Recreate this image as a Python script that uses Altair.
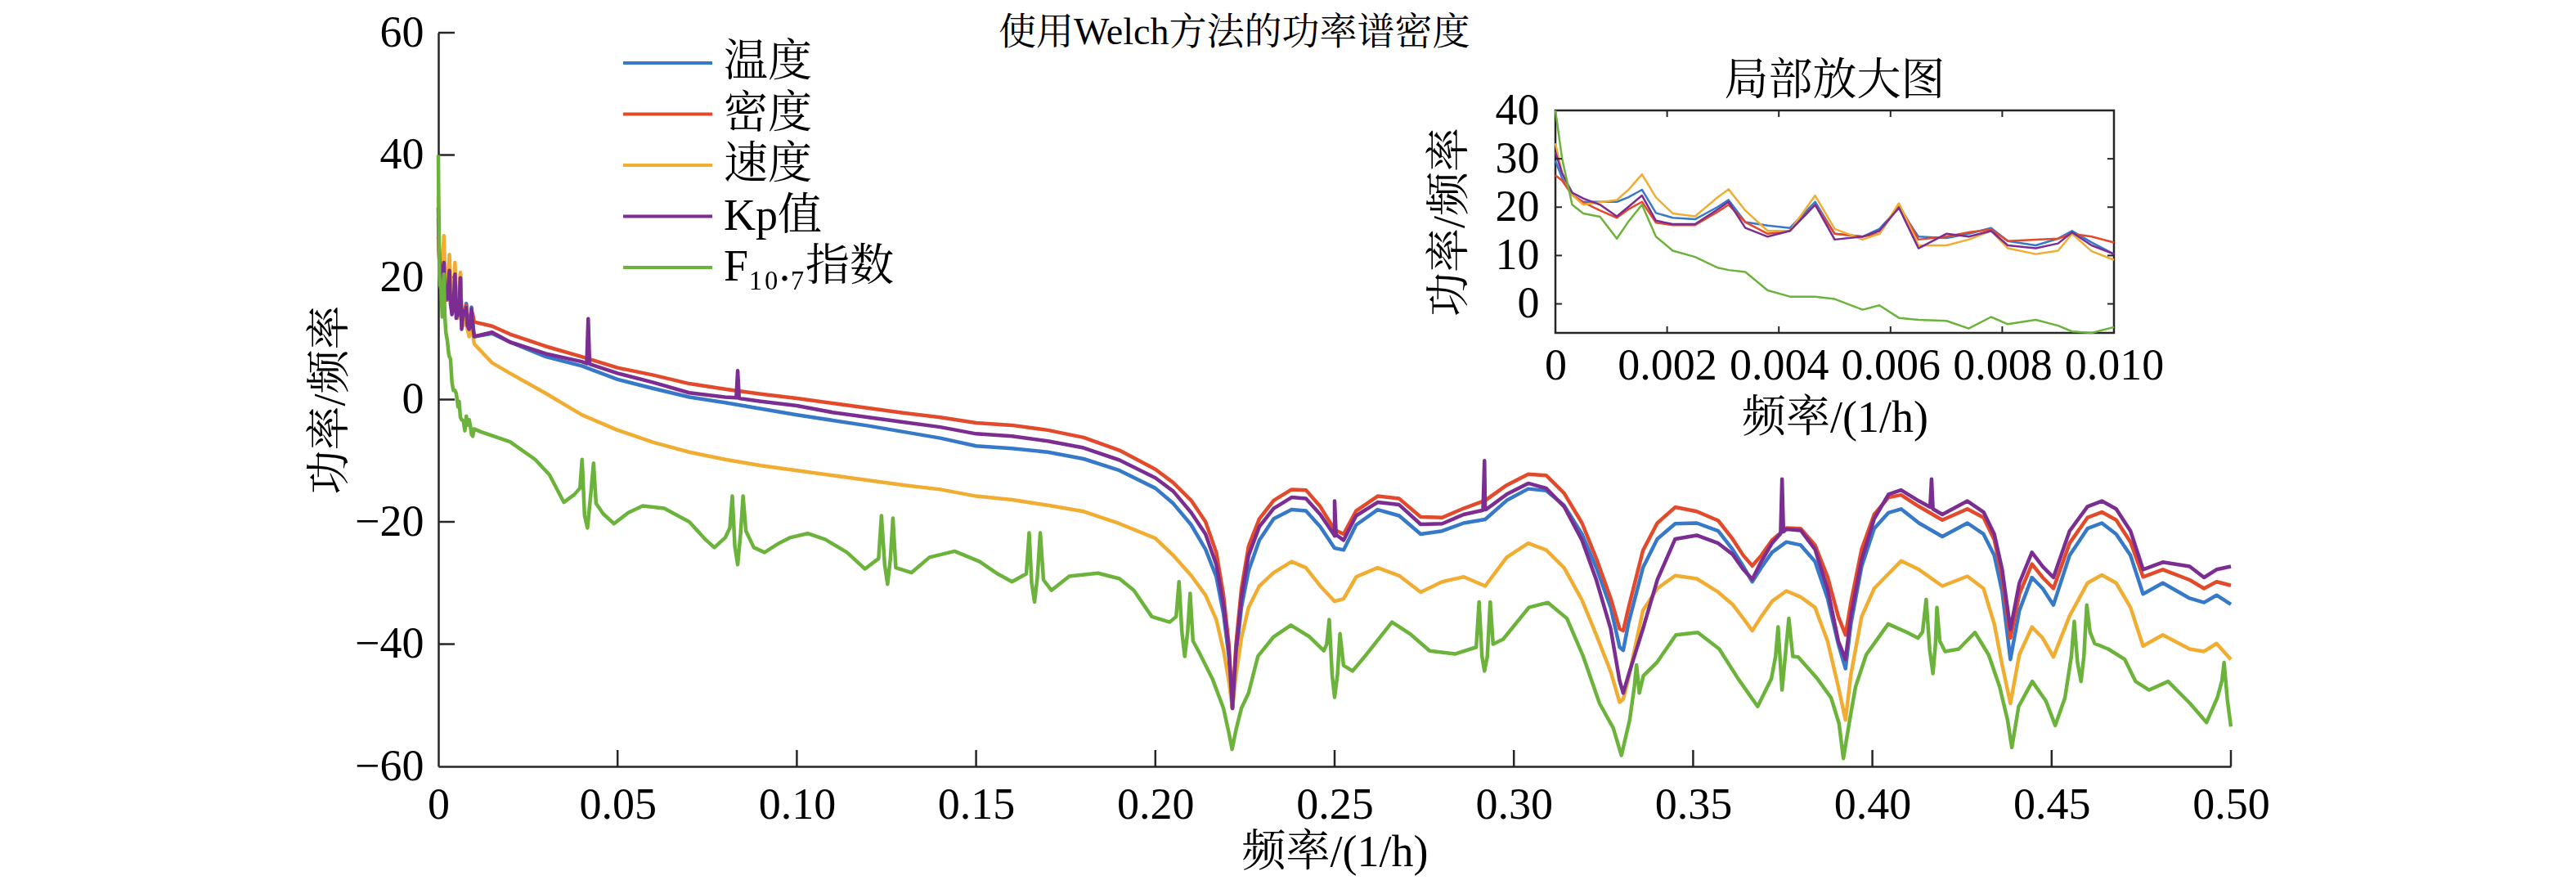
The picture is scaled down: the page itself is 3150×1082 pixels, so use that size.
import altair as alt
import pandas as pd

FONT = "Liberation Serif, Times New Roman, Noto Serif CJK SC, Noto Sans CJK SC, serif"
FS = 54
TITLE_FS = 46
W, H = 2192, 897
INSET_L, INSET_R, INSET_T, INSET_B = 1366, 2049, 95, 367

series_names = ["温度", "密度", "速度", "Kp值", "F₁₀.₇指数"]
series_colors = ["#3779C9", "#E24A2B", "#F0AD32", "#7B2D91", "#6CB33C"]

main_title = "使用Welch方法的功率谱密度"
inset_title = "局部放大图"
x_title = "频率/(1/h)"
y_title = "功率/频率"

x_ticks_main = [0, 0.05, 0.10, 0.15, 0.20, 0.25, 0.30, 0.35, 0.40, 0.45, 0.50]
y_ticks_main = [-60, -40, -20, 0, 20, 40, 60]
x_ticks_inset = [0, 0.002, 0.004, 0.006, 0.008, 0.010]
y_ticks_inset = [0, 10, 20, 30, 40]
inset_x_domain = [0, 0.01]
inset_y_domain = [-6, 40]

# ---- low-frequency part (0 - 0.01 1/h), also shown in the inset ----
inset_freq = [0, 0.00012, 0.0003, 0.0005, 0.0008, 0.0011, 0.0013, 0.00155, 0.0018, 0.0021,
              0.0025, 0.0029, 0.0031, 0.0034, 0.0038, 0.0042, 0.00465, 0.005, 0.0055, 0.0058,
              0.00615, 0.0065, 0.007, 0.0074, 0.0078, 0.0081, 0.0086, 0.009, 0.00925, 0.0096,
              0.01]
inset_wendu = [29.6, 26, 22.5, 21.1, 21.1, 21.1, 22, 23.6, 18.8, 17.8,
               17.5, 20, 21.5, 16.9, 16.2, 15.7, 21.1, 14.5, 13.9, 15.5,
               19.9, 13.9, 13.6, 14.5, 15.7, 13, 12.1, 13.5, 15.1, 12.7,
               10.3]
inset_midu = [26.6, 25.5, 22.5, 21, 19.3, 17.8, 19.5, 21.1, 16.8, 16.3,
              16.3, 19, 20.5, 16.9, 14.5, 15.1, 20.5, 14.5, 13.9, 14.5,
              20.5, 13.3, 13.9, 14.8, 15.4, 13, 13.3, 13.5, 14.5, 13.9,
              12.7]
inset_sudu = [33.2, 27, 22.5, 20.5, 21, 21.5, 23.5, 26.8, 22, 18.7,
              18.1, 22, 23.7, 19.3, 15.1, 15.1, 22.4, 15.5, 13.3, 14.5,
              20.8, 12.1, 12.1, 13.3, 15.1, 11.5, 10.3, 11, 14.5, 10.9,
              9.1]
inset_kp = [31.4, 27, 23, 21.8, 20.5, 18.1, 20, 22.4, 17.2, 16.5,
            16.5, 19.5, 21.1, 15.7, 13.9, 15.1, 20.5, 13.3, 13.9, 15.1,
            19.9, 11.5, 14.5, 13.9, 15.1, 12.1, 11.5, 12.5, 14.8, 12.1,
            10.3]
inset_f107 = [40, 30, 20.5, 18.7, 18, 13.5, 16.9, 20.5, 13.9, 11,
              9.7, 7.5, 7, 6.6, 2.8, 1.5, 1.5, 1, -1.2, -0.3,
              -2.9, -3.3, -3.5, -5.1, -2.7, -4.2, -3.3, -4.5, -5.7, -6,
              -4.8]

# ---- rest of the spectrum (0.01 - 0.5 1/h) ----
main_freq = [0.015, 0.02, 0.03, 0.04, 0.05, 0.06, 0.07, 0.08, 0.09, 0.10,
             0.11, 0.12, 0.13, 0.14, 0.15, 0.16, 0.17, 0.18, 0.19, 0.20,
             0.205, 0.21, 0.214, 0.217, 0.219, 0.2205, 0.2215, 0.2225, 0.224, 0.226,
             0.229, 0.233, 0.238, 0.242, 0.246, 0.25, 0.2525, 0.256, 0.262, 0.268,
             0.274, 0.28, 0.286, 0.292, 0.298, 0.304, 0.309, 0.314, 0.319, 0.323,
             0.327, 0.3295, 0.3305, 0.332, 0.336, 0.34, 0.345, 0.351, 0.357, 0.361,
             0.364, 0.3665, 0.369, 0.372, 0.376, 0.38, 0.384, 0.3875, 0.3905, 0.3925,
             0.394, 0.397, 0.4005, 0.4045, 0.408, 0.413, 0.4195, 0.4265, 0.431, 0.434,
             0.4362, 0.4385, 0.441, 0.4445, 0.4475, 0.4505, 0.455, 0.46, 0.464, 0.468,
             0.472, 0.4755, 0.481, 0.4885, 0.4925, 0.496, 0.5]
main_wendu = [10.8, 9.4, 7.0, 5.5, 3.3, 1.8, 0.4, -0.5, -1.5, -2.5,
              -3.4, -4.3, -5.3, -6.3, -7.6, -8.0, -8.6, -9.7, -11.6, -14.5,
              -17, -20.5, -24.5, -29, -35, -42, -50.5, -42, -34, -28,
              -23, -19.5, -18, -18.2, -20.8, -24.3, -24.6, -20.5, -18, -19,
              -22, -21.5, -20.2, -19.6, -16.5, -14.6, -14.9, -17.3, -22, -27.5,
              -34, -40.5, -41, -36.5, -27.5, -22.8, -20.3, -20.2, -21.5, -24.5,
              -27.3, -29.8, -27.5, -25, -23.3, -23.8, -26.5, -32.5, -40, -44,
              -36.7, -27.3, -21.1, -18.5, -17.9, -20.2, -22.4, -20.2, -22, -25.5,
              -31.4, -42.5, -34.5, -29.1, -30.9, -33.6, -25.5, -21.1, -20.2, -22,
              -25.5, -31.8, -30, -32.5, -33.2, -32, -33.5]
main_midu = [12.0, 10.7, 8.7, 7.0, 5.2, 4.0, 2.6, 1.7, 0.9, 0.2,
             -0.6, -1.4, -2.2, -2.9, -3.8, -4.2, -5.0, -6.2, -8.3, -11.4,
             -13.6, -16.5, -20, -25, -32, -40, -50.5, -40, -31, -24,
             -19.5, -16.5, -14.7, -14.8, -17.5, -21.3, -22, -18.2, -15.8, -16.2,
             -19.2, -19.3, -17.8, -16.5, -14, -12.2, -12.4, -15.3, -20.2, -26,
             -32.5, -37.5, -37.8, -34, -24.7, -20.2, -17.6, -18.3, -19.8, -22.8,
             -25.5, -27.2, -25.5, -23, -21, -21.1, -23.8, -29, -35.5, -38.5,
             -33.2, -24.5, -18.8, -16, -15.6, -17.5, -19.7, -17.9, -19.3, -22.9,
             -29, -39, -31.8, -26.9, -29.1, -30.9, -23.5, -19.3, -18.4, -19.7,
             -23.3, -29, -27.8, -29.5, -30.9, -29.8, -30.4]
main_sudu = [6.0, 4.3, 1.0, -2.5, -5.0, -7.0, -8.6, -9.8, -10.8, -11.6,
             -12.4, -13.2, -14.0, -14.7, -15.8, -16.4, -17.3, -18.3, -20.3, -22.7,
             -25.5, -28.8, -32, -36, -41, -46, -50.5, -45, -39, -34,
             -30.5, -28.3, -26.5, -27.5, -30.5, -33, -32.6, -29, -27.5, -28.8,
             -31.5, -29.8, -29, -30.5, -25.8, -23.5, -24.6, -27.5, -32.8, -38.5,
             -44.5, -49.5, -49, -45.5, -34.5, -30.9, -28.8, -29.3, -31.5, -33.5,
             -35.8, -37.8, -35.5, -33, -31.3, -32.3, -34, -39.5, -47, -52.4,
             -45, -35.5, -30.9, -28.5, -26.4, -27.8, -30.5, -28.9, -30.9, -36.7,
             -43.4, -49.7, -41.7, -37.2, -39, -42.1, -35.4, -30, -28.7, -30,
             -34, -40.3, -38.5, -40.8, -41.2, -39.9, -42.5]
main_kp = [11, 9.4, 7.5, 6.2, 4.3, 2.8, 1.1, 0.4, -0.3, -1.0,
           -2.1, -2.9, -3.7, -4.5, -5.6, -6.0, -6.8, -7.9, -9.9, -12.8,
           -15, -18.5, -22, -27, -33.5, -41, -50.5, -41, -32.5, -25.5,
           -20.8, -17.8, -16, -16.2, -18.8, -22.3, -23, -19, -16.8, -17.2,
           -20.4, -20.3, -18.8, -18, -15.5, -13.7, -14.5, -17.5, -23, -29.5,
           -37.5, -46, -48, -45, -37.5, -29.5, -22.8, -22.2, -23.5, -25.3,
           -27.8, -29.4, -26.5, -23.5, -21.2, -21.4, -24.5, -31, -39.5, -42.5,
           -35.4, -26.2, -19.5, -15.5, -14.8, -16.6, -18.8, -16.6, -18.4, -22,
           -27.8, -37.6, -30, -25, -27.3, -29.1, -21.5, -17.5, -16.6, -17.9,
           -21.5, -27.8, -26.6, -27.3, -29.1, -27.8, -27.3]

# narrow spikes of the Kp spectrum (freq, value)
kp_spikes = [(0.0414, 5.9), (0.0418, 13.2), (0.0422, 5.8),
             (0.0831, 0.3), (0.0835, 4.7), (0.0839, 0.2),
             (0.2496, -21.9), (0.2500, -16.6), (0.2504, -22.1),
             (0.2914, -18.1), (0.2918, -10.0), (0.2922, -18.0),
             (0.3744, -21.9), (0.3748, -13.0), (0.3752, -21.6),
             (0.4161, -17.6), (0.4165, -13.0), (0.4169, -17.9)]

# F10.7 spectrum above 0.01 1/h (freq, value)
f107_points = [
    (0.012, -5.3), (0.02, -6.9), (0.027, -9.8), (0.031, -12.3), (0.035, -16.8), (0.038, -15.5),
    (0.0395, -14.5), (0.0401, -9.8), (0.0408, -19), (0.0416, -21), (0.0426, -15), (0.0433, -10.4),
    (0.044, -17), (0.046, -18.7), (0.049, -20.3), (0.053, -18.5), (0.057, -17.4), (0.063, -17.8),
    (0.07, -20), (0.0747, -23), (0.077, -24.2), (0.08, -22.6), (0.0813, -21), (0.082, -15.8),
    (0.0827, -24), (0.0835, -27), (0.0843, -22), (0.085, -15.8), (0.0858, -21.5), (0.088, -24.2),
    (0.091, -25), (0.095, -23.5), (0.098, -22.6), (0.103, -21.9), (0.108, -22.9), (0.114, -25),
    (0.119, -27.7), (0.1228, -26), (0.1236, -19), (0.1245, -27), (0.1253, -30.2), (0.1261, -26),
    (0.1268, -19.4), (0.1276, -27.5), (0.132, -28.3), (0.137, -25.8), (0.144, -24.8), (0.151, -26.5),
    (0.156, -28.5), (0.16, -29.8), (0.164, -28.5), (0.1648, -21.8), (0.1655, -30), (0.1663, -33.1),
    (0.1671, -29), (0.1679, -21.8), (0.1688, -29.5), (0.171, -31.2), (0.176, -28.9), (0.184, -28.4),
    (0.19, -29.3), (0.194, -31.2), (0.199, -35.5), (0.204, -36.4), (0.2058, -35.5), (0.2066, -29.8),
    (0.2074, -38), (0.2082, -42), (0.209, -38), (0.2097, -31.7), (0.2105, -39.5), (0.212, -41.1),
    (0.216, -45.8), (0.219, -50.5), (0.2205, -54.5), (0.2214, -57.2), (0.2225, -54), (0.224, -50.5),
    (0.226, -48), (0.2286, -42), (0.233, -38.8), (0.2378, -36.9), (0.243, -38.8), (0.247, -41.1),
    (0.2478, -40), (0.2485, -36), (0.2493, -45), (0.25, -48.7), (0.2508, -45), (0.2515, -38.3),
    (0.2525, -43.5), (0.255, -44.4), (0.259, -41.6), (0.266, -36.4), (0.271, -38.3), (0.2765, -41.1),
    (0.2837, -41.6), (0.2895, -40.5), (0.2903, -33.1), (0.2911, -42), (0.2918, -44.4), (0.2926, -42),
    (0.2934, -33.1), (0.2942, -40), (0.297, -39.2), (0.3042, -34), (0.3095, -33.2), (0.3148, -35.8),
    (0.3194, -42.1), (0.3239, -49.7), (0.3277, -53.7), (0.33, -58.2), (0.3323, -52.4), (0.3336, -47),
    (0.3342, -43.4), (0.335, -48), (0.3361, -45.2), (0.3399, -43), (0.3452, -38.5), (0.3513, -38.1),
    (0.3573, -40.8), (0.3626, -45.7), (0.368, -50.2), (0.3718, -45.7), (0.373, -42), (0.3737, -37.2),
    (0.3748, -47.5), (0.3767, -35.8), (0.3778, -42), (0.3793, -42.1), (0.3847, -45.7), (0.3885, -48.8),
    (0.3907, -53), (0.3919, -58.7), (0.3938, -52), (0.3953, -47), (0.3983, -41.7), (0.4044, -36.7),
    (0.4097, -38.1), (0.4127, -39), (0.414, -38), (0.415, -32.7), (0.416, -41), (0.4169, -44.8),
    (0.4176, -40), (0.418, -34), (0.4188, -39.5), (0.4203, -41.2), (0.4241, -40.8), (0.4286, -38.1),
    (0.4324, -41.7), (0.4355, -47), (0.4377, -52.4), (0.4389, -56.9), (0.4408, -50.2), (0.4446, -46.1),
    (0.4484, -49.3), (0.451, -53.3), (0.4537, -48.8), (0.4555, -42), (0.4563, -36.3), (0.4572, -43),
    (0.4582, -46.1), (0.459, -42), (0.4598, -33.6), (0.4607, -38), (0.462, -39.9), (0.4658, -40.8),
    (0.4704, -42.5), (0.4734, -46.1), (0.4772, -47.5), (0.4825, -46.1), (0.4886, -49.7), (0.4932, -52.8),
    (0.4962, -48.8), (0.4975, -46), (0.4981, -43), (0.499, -49), (0.5, -53.5)]

for arr in (main_wendu, main_midu, main_sudu, main_kp):
    if len(arr) != len(main_freq):
        raise ValueError(f"length mismatch {len(arr)} vs {len(main_freq)}")
for arr in (inset_wendu, inset_midu, inset_sudu, inset_kp, inset_f107):
    if len(arr) != len(inset_freq):
        raise ValueError(f"inset length mismatch {len(arr)} vs {len(inset_freq)}")

main_rows = []
inset_rows = []


def add(rows, name, fs, vs):
    for f, v in zip(fs, vs):
        rows.append({"series": name, "freq": f, "psd": v})


add(main_rows, series_names[0], inset_freq + main_freq, inset_wendu + main_wendu)
add(main_rows, series_names[1], inset_freq + main_freq, inset_midu + main_midu)
add(main_rows, series_names[2], inset_freq + main_freq, inset_sudu + main_sudu)
add(main_rows, series_names[3], inset_freq + main_freq + [p[0] for p in kp_spikes],
    inset_kp + main_kp + [p[1] for p in kp_spikes])
add(main_rows, series_names[4], inset_freq + [p[0] for p in f107_points],
    inset_f107 + [p[1] for p in f107_points])

add(inset_rows, series_names[0], inset_freq, inset_wendu)
add(inset_rows, series_names[1], inset_freq, inset_midu)
add(inset_rows, series_names[2], inset_freq, inset_sudu)
add(inset_rows, series_names[3], inset_freq, inset_kp)
add(inset_rows, series_names[4], inset_freq, inset_f107)

main_df = pd.DataFrame(main_rows)
inset_df = pd.DataFrame(inset_rows)

color_scale = alt.Scale(domain=series_names, range=series_colors)
AX = "#262626"

# ---------------- main panel ----------------
x_main = alt.X("freq:Q", scale=alt.Scale(domain=[0, 0.5], nice=False, zero=False),
               axis=alt.Axis(orient="bottom", values=x_ticks_main,
                             labelExpr="datum.value == 0 ? '0' : format(datum.value, '.2f')",
                             labelPadding=20, title=x_title, titlePadding=4))
y_main = alt.Y("psd:Q", scale=alt.Scale(domain=[-60, 60], nice=False, zero=False),
               axis=alt.Axis(orient="left", values=y_ticks_main, format="d",
                             labelPadding=18, title=y_title, titlePadding=2))

main_lines = alt.Chart(main_df).mark_line(strokeWidth=4.5, strokeJoin="round").encode(
    x=x_main, y=y_main,
    color=alt.Color("series:N", scale=color_scale, legend=None))

main_xticks = alt.Chart(pd.DataFrame({"freq": x_ticks_main[1:]})).mark_rule(
    color=AX, strokeWidth=2.5).encode(x=alt.X("freq:Q"), y=alt.value(H), y2=alt.value(H - 20))
main_yticks = alt.Chart(pd.DataFrame({"psd": y_ticks_main[1:]})).mark_rule(
    color=AX, strokeWidth=2.5).encode(y=alt.Y("psd:Q"), x=alt.value(0), x2=alt.value(20))
main_title_mark = alt.Chart(pd.DataFrame({"t": [main_title]})).mark_text(
    font=FONT, fontSize=TITLE_FS, align="center", baseline="middle", dy=0, color="black").encode(
    x=alt.datum(0.222), y=alt.datum(60), text="t:N")

main_group = alt.layer(main_xticks, main_yticks, main_lines, main_title_mark)

# ---------------- inset panel ----------------
x_inset = alt.X("freq:Q", scale=alt.Scale(domain=inset_x_domain, range=[INSET_L, INSET_R], nice=False, zero=False),
                axis=alt.Axis(orient="bottom", offset=INSET_B - H, values=x_ticks_inset, domain=False,
                              labelExpr="datum.value == 0 ? '0' : format(datum.value, '.3f')",
                              labelPadding=13, title=x_title, titlePadding=10))
y_inset = alt.Y("psd:Q", scale=alt.Scale(domain=inset_y_domain, range=[INSET_B, INSET_T], nice=False, zero=False),
                axis=alt.Axis(orient="left", offset=-INSET_L, values=y_ticks_inset, domain=False,
                              format="d", labelPadding=20, title=y_title, titlePadding=28))

frame_df = pd.DataFrame({"freq": [inset_x_domain[0]], "freq_end": [inset_x_domain[1]],
                         "psd": [inset_y_domain[0]], "psd_end": [inset_y_domain[1]]})
inset_frame = alt.Chart(frame_df).mark_rect(fill="white", stroke=AX, strokeWidth=2.5).encode(
    x=x_inset, x2="freq_end:Q", y=y_inset, y2="psd_end:Q")
inset_lines = alt.Chart(inset_df).mark_line(strokeWidth=2.5, strokeJoin="round").encode(
    x=alt.X("freq:Q"), y=alt.Y("psd:Q"),
    color=alt.Color("series:N", scale=color_scale, legend=None))
ixt = pd.DataFrame({"freq": x_ticks_inset[1:-1]})
iyt = pd.DataFrame({"psd": y_ticks_inset[:-1]})
inset_tb = alt.Chart(ixt).mark_rule(color=AX, strokeWidth=2).encode(
    x=alt.X("freq:Q"), y=alt.value(INSET_B), y2=alt.value(INSET_B - 8))
inset_tt = alt.Chart(ixt).mark_rule(color=AX, strokeWidth=2).encode(
    x=alt.X("freq:Q"), y=alt.value(INSET_T), y2=alt.value(INSET_T + 8))
inset_tl = alt.Chart(iyt).mark_rule(color=AX, strokeWidth=2).encode(
    y=alt.Y("psd:Q"), x=alt.value(INSET_L), x2=alt.value(INSET_L + 8))
inset_tr = alt.Chart(iyt).mark_rule(color=AX, strokeWidth=2).encode(
    y=alt.Y("psd:Q"), x=alt.value(INSET_R), x2=alt.value(INSET_R - 8))
inset_title_mark = alt.Chart(pd.DataFrame({"t": [inset_title]})).mark_text(
    font=FONT, fontSize=FS, align="center", baseline="middle", dy=-35, color="black").encode(
    x=alt.datum(0.005), y=alt.datum(40), text="t:N")

inset_group = alt.layer(inset_frame, inset_lines, inset_tb, inset_tt, inset_tl, inset_tr, inset_title_mark)

# ---------------- legend ----------------
legend_df = pd.DataFrame({"series": series_names})
leg_y = alt.Y("series:N", scale=alt.Scale(type="point", domain=series_names, range=[37, 287], padding=0),
              axis=None)
legend_lines = alt.Chart(legend_df).mark_rule(strokeWidth=4).encode(
    y=leg_y, x=alt.value(226), x2=alt.value(335),
    color=alt.Color("series:N", scale=color_scale, legend=None))
legend_labels = alt.Chart(legend_df).mark_text(
    font=FONT, fontSize=FS, align="left", baseline="middle", color="black").encode(
    y=leg_y, x=alt.value(349), text="series:N")
legend_group = alt.layer(legend_lines, legend_labels)

chart = alt.layer(main_group, inset_group, legend_group).resolve_scale(
    x="independent", y="independent"
).properties(
    width=W, height=H,
    autosize=alt.AutoSizeParams(type="none"),
    padding={"left": 528, "top": 32, "right": 400, "bottom": 138},
).configure_view(stroke=None).configure_axis(
    labelFont=FONT, labelFontSize=FS, labelColor="black",
    titleFont=FONT, titleFontSize=FS, titleFontWeight="normal", titleColor="black",
    grid=False, ticks=False, domainColor=AX, domainWidth=2.5,
    labelOverlap=False, labelFlush=False, labelBound=False,
)

chart.save("out.html", embed_options={"renderer": "svg", "actions": False})
